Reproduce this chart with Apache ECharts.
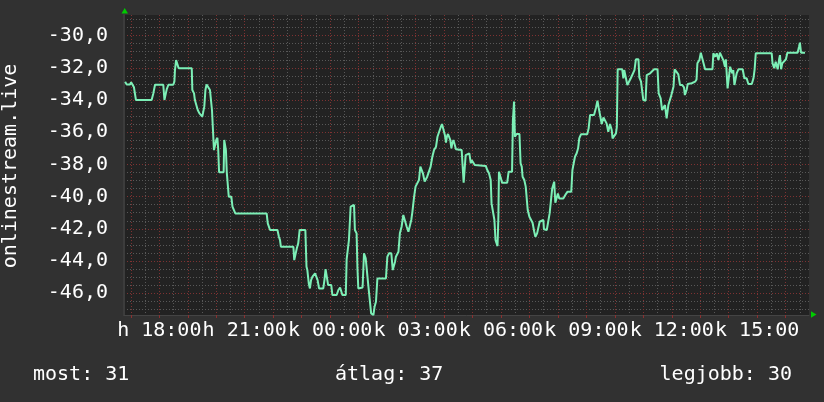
<!DOCTYPE html>
<html>
<head>
<meta charset="utf-8">
<script src="https://cdn.jsdelivr.net/npm/echarts@6/dist/echarts.min.js"></script>
<style>
    html, body { margin: 0; padding: 0; background: #313131; }
    #main { width: 824px; height: 402px; }
</style>
</head>
<body>
<div id="main"></div>
<script>
    // [hours since Monday 00:00, signal] pairs
    var samplesEvening = [
        [16.80, -32.86], [16.85, -33.03], [16.97, -33.03], [17.01, -32.90], [17.06, -32.90], [17.11, -33.21],
        [17.15, -33.27], [17.18, -34.00], [17.73, -34.00], [17.76, -33.90], [17.79, -33.59], [17.85, -33.05],
        [18.14, -33.05], [18.18, -34.00], [18.21, -34.00], [18.26, -33.34], [18.32, -33.05], [18.49, -33.05],
        [18.53, -32.86], [18.55, -32.14], [18.59, -31.52], [18.65, -31.52], [18.68, -32.03], [19.14, -32.03],
        [19.16, -33.38], [19.22, -33.59], [19.25, -34.00], [19.31, -34.10], [19.35, -34.62], [19.41, -34.83],
        [19.47, -34.83], [19.51, -35.03], [19.55, -35.14], [19.58, -34.41], [19.62, -33.38], [19.66, -33.03],
        [19.73, -33.03], [19.78, -33.38], [19.82, -33.48], [19.85, -34.62], [19.89, -34.72], [19.92, -37.11],
        [19.97, -37.11], [20.00, -36.48], [20.04, -36.34], [20.07, -37.11], [20.10, -38.49], [20.26, -38.49],
        [20.28, -36.48], [20.32, -36.59], [20.34, -37.11], [20.37, -38.49], [20.41, -38.49], [20.44, -40.00],
        [20.53, -40.00], [20.57, -40.62], [20.60, -40.67], [20.64, -40.73], [20.67, -41.04], [21.77, -41.04],
        [21.81, -41.66], [21.85, -41.76], [21.89, -42.07], [22.15, -42.07], [22.20, -42.49], [22.24, -42.70],
        [22.27, -43.11], [22.71, -43.11], [22.74, -43.94], [22.79, -43.94], [22.83, -43.21], [22.88, -42.90],
        [22.93, -42.07], [23.13, -42.07], [23.17, -44.35], [23.20, -44.56], [23.25, -45.39], [23.29, -45.70],
        [23.33, -45.18], [23.38, -44.97], [23.47, -44.77], [23.53, -44.81], [23.56, -45.18], [23.61, -45.70],
        [23.76, -45.70], [23.80, -45.18], [23.84, -44.50], [23.88, -44.50], [23.93, -45.49], [24.04, -45.49],
        [24.08, -46.11], [24.23, -46.11], [24.29, -45.80], [24.35, -45.64], [24.41, -45.64], [24.43, -46.11],
        [24.55, -46.11], [24.58, -43.90], [24.63, -43.90], [24.66, -42.70], [24.70, -41.35], [24.72, -40.62]
    ];
    var samplesNight = [
        [24.73, -40.52], [24.84, -40.52], [24.87, -42.07], [24.93, -42.28], [24.96, -44.46], [24.99, -45.70],
        [25.14, -45.64], [25.19, -43.52], [25.25, -43.83], [25.31, -43.83], [25.34, -45.49], [25.40, -45.49],
        [25.44, -47.25], [25.52, -47.35], [25.56, -46.84], [25.61, -46.53], [25.66, -45.08], [25.96, -45.08],
        [26.01, -43.73], [26.07, -43.52], [26.15, -43.52], [26.20, -44.56], [26.23, -44.66], [26.28, -44.04],
        [26.31, -43.73], [26.40, -43.42], [26.45, -42.28], [26.51, -41.87], [26.57, -41.14], [26.63, -41.04],
        [26.69, -41.87], [26.75, -42.18], [26.81, -42.28], [26.85, -41.45], [26.89, -40.94], [26.95, -40.00],
        [27.00, -39.38], [27.06, -39.28], [27.12, -38.97], [27.17, -38.14], [27.23, -38.10], [27.26, -38.55],
        [27.32, -39.07], [27.39, -39.07], [27.41, -38.76], [27.47, -38.66], [27.53, -38.14], [27.59, -37.52],
        [27.65, -37.11], [27.72, -36.90], [27.77, -36.28], [27.84, -36.17], [27.89, -35.66], [27.93, -35.49],
        [28.00, -35.49], [28.03, -36.17], [28.07, -36.65], [28.10, -36.28], [28.14, -36.11], [28.19, -36.17],
        [28.22, -36.48], [28.26, -37.00], [28.29, -36.69], [28.33, -36.48], [28.39, -36.48], [28.42, -37.06],
        [28.49, -37.11], [28.62, -37.11], [28.66, -37.21], [28.69, -39.13], [28.74, -39.13], [28.76, -37.42],
        [28.82, -37.31], [28.89, -37.31], [28.94, -37.93], [28.97, -37.73], [29.03, -37.69], [29.08, -38.04],
        [29.15, -38.10], [29.47, -38.10], [29.52, -38.35], [29.58, -38.55], [29.64, -38.97], [29.67, -40.42],
        [29.73, -40.42], [29.77, -41.45], [29.81, -42.70], [29.88, -43.07], [29.91, -41.25], [29.93, -38.45],
        [30.00, -38.45], [30.04, -39.13], [30.22, -39.13], [30.27, -38.45], [30.39, -38.45], [30.42, -35.24],
        [30.46, -34.10], [30.49, -36.28], [30.55, -36.11], [30.65, -36.11], [30.69, -37.93], [30.73, -38.14],
        [30.76, -38.76], [30.82, -38.97], [30.87, -39.38], [30.90, -39.49], [30.94, -40.83], [31.00, -41.25],
        [31.06, -41.35], [31.11, -41.62], [31.17, -42.18], [31.21, -42.49], [31.27, -42.28], [31.32, -42.28],
        [31.36, -41.56], [31.42, -41.45], [31.49, -41.45], [31.51, -42.03], [31.61, -42.07], [31.68, -42.03],
        [31.71, -41.04], [31.77, -41.04], [31.80, -39.49], [31.84, -39.38], [31.87, -39.07], [31.91, -40.38],
        [31.96, -40.42], [32.00, -39.80], [32.05, -40.11], [32.19, -40.11], [32.28, -39.84], [32.34, -39.69],
        [32.47, -39.69], [32.51, -38.35], [32.57, -38.24], [32.60, -37.52], [32.66, -37.31], [32.71, -37.00],
        [32.75, -36.38], [32.81, -36.13], [33.03, -36.13], [33.08, -35.76], [33.13, -34.93]
    ];
    var samplesDay = [
        [33.19, -34.93], [33.27, -34.93], [33.34, -34.46], [33.39, -34.04], [33.43, -34.46], [33.48, -34.93],
        [33.54, -35.49], [33.60, -35.08], [33.65, -35.14], [33.71, -35.45], [33.77, -35.97], [33.83, -35.49],
        [33.89, -35.86], [33.92, -36.38], [33.97, -36.48], [34.04, -36.07], [34.07, -35.66], [34.10, -32.09],
        [34.26, -32.09], [34.30, -32.65], [34.33, -32.14], [34.39, -32.09], [34.44, -33.07], [34.50, -32.96],
        [34.56, -32.65], [34.62, -32.59], [34.69, -32.14], [34.74, -31.47], [34.83, -31.47], [34.86, -32.59],
        [34.92, -32.86], [34.97, -32.96], [35.00, -34.00], [35.08, -34.04], [35.12, -32.45], [35.24, -32.34],
        [35.29, -32.24], [35.38, -32.09], [35.50, -32.09], [35.54, -33.59], [35.61, -33.90], [35.66, -34.62],
        [35.73, -34.62], [35.76, -34.31], [35.82, -35.14], [35.88, -34.31], [35.94, -34.37], [35.97, -33.79],
        [36.06, -33.17], [36.10, -32.09], [36.17, -32.14], [36.23, -32.41], [36.29, -33.07], [36.37, -33.07],
        [36.43, -33.21], [36.46, -33.69], [36.52, -33.38], [36.56, -33.01], [36.70, -32.96], [36.82, -32.86],
        [36.87, -32.72], [36.90, -31.72], [36.97, -31.52], [37.02, -31.06], [37.09, -31.06], [37.17, -32.09],
        [37.43, -32.09], [37.46, -31.10], [37.53, -31.31], [37.58, -31.10], [37.64, -31.52], [37.69, -31.06],
        [37.75, -31.06], [37.81, -31.52], [37.87, -31.93], [37.90, -31.47], [37.96, -33.28], [38.00, -33.28],
        [38.05, -31.93], [38.12, -32.34], [38.16, -32.14], [38.20, -33.07], [38.24, -33.07], [38.28, -32.34],
        [38.34, -32.09], [38.49, -32.09], [38.55, -32.65], [38.63, -32.65], [38.69, -33.01], [38.81, -33.01],
        [38.87, -32.65], [38.91, -32.09], [38.95, -31.10], [39.51, -31.10], [39.54, -31.72], [39.60, -32.03],
        [39.65, -31.62], [39.72, -32.09], [39.77, -31.47], [39.80, -31.21], [39.84, -32.09], [39.88, -31.72],
        [39.94, -31.62], [40.01, -31.47], [40.06, -31.06], [40.42, -31.06], [40.47, -30.69], [40.50, -30.44],
        [40.54, -31.06], [40.68, -31.06]
    ];

    var xTickValues = [18, 21, 24, 27, 30, 33, 36, 39];
    var xTickLabels = ['h 18:00', 'h 21:00', 'k 00:00', 'k 03:00', 'k 06:00', 'k 09:00', 'k 12:00', 'k 15:00'];
    var yTickValues = [-30, -32, -34, -36, -38, -40, -42, -44, -46];
    var yTitle = 'onlinestream.live';
    var summary = ['most: 31', 'átlag: 37', 'legjobb: 30'];

    var xMin = 16.76, xMax = 40.82;
    var yMin = -47.35, yMax = -28.72;

    var hourTicks = [], halfHourTicks = [], halfUnitTicks = [];
    for (var h = 17; h <= 40; h++) hourTicks.push(h);
    for (var hh = 17; hh <= 40.5; hh += 0.5) halfHourTicks.push(hh);
    for (var v = -47; v <= -29; v += 0.5) halfUnitTicks.push(v);

    var mono = 'DejaVu Sans Mono';
    var redGrid = '#7e3232';
    var greyGrid = '#585858';
    var dotted = [1, 2];

    var chart = echarts.init(document.getElementById('main'));
    chart.setOption({
        backgroundColor: '#313131',
        animation: false,
        grid: {
            left: 124, right: 15, top: 15, bottom: 87,
            show: true, backgroundColor: '#222222', borderWidth: 0
        },
        xAxis: [
            { // minor grid
                type: 'value', position: 'bottom', min: xMin, max: xMax,
                axisLine: {show: false},
                axisTick: {show: false, customValues: halfHourTicks},
                axisLabel: {show: false},
                splitLine: {show: true, lineStyle: {color: greyGrid, type: dotted}}
            },
            {
                type: 'value', position: 'bottom', min: xMin, max: xMax,
                axisLine: {show: true, onZero: false, lineStyle: {color: '#444444', width: 1}},
                axisTick: {show: true, customValues: hourTicks, length: 3, lineStyle: {color: '#8a3030'}},
                axisLabel: {
                    customValues: xTickValues,
                    formatter: function (val) {
                        return xTickLabels[xTickValues.indexOf(Math.round(val))];
                    },
                    color: '#ffffff', fontFamily: mono, fontSize: 20, margin: 6
                },
                splitLine: {show: true, lineStyle: {color: redGrid, type: dotted}}
            }
        ],
        yAxis: [
            { // minor grid
                type: 'value', position: 'left', min: yMin, max: yMax,
                axisLine: {show: false},
                axisTick: {show: false, customValues: halfUnitTicks},
                axisLabel: {show: false},
                splitLine: {show: true, lineStyle: {color: greyGrid, type: dotted}}
            },
            {
                type: 'value', position: 'left', min: yMin, max: yMax,
                axisLine: {show: true, onZero: false, lineStyle: {color: '#3c3c3c', width: 2}},
                axisTick: {show: false, customValues: yTickValues},
                axisLabel: {
                    customValues: yTickValues,
                    formatter: function (val) {
                        return val.toFixed(1).replace('.', ',');
                    },
                    color: '#ffffff', fontFamily: mono, fontSize: 20, margin: 16
                },
                splitLine: {show: true, lineStyle: {color: redGrid, type: dotted}}
            }
        ],
        series: [
            {
                type: 'line',
                xAxisIndex: 1,
                yAxisIndex: 1,
                data: samplesEvening.concat(samplesNight, samplesDay),
                showSymbol: false,
                clip: true,
                lineStyle: {color: '#7cefb6', width: 2},
                z: 5
            }
        ],
        graphic: [
            {
                type: 'text', x: 11, y: 166, rotation: Math.PI / 2,
                style: {text: yTitle, fill: '#ffffff', font: '20px "DejaVu Sans Mono"', align: 'center', verticalAlign: 'middle'}
            },
            {
                type: 'text', x: 33, y: 375,
                style: {text: summary[0], fill: '#ffffff', font: '20px "DejaVu Sans Mono"', align: 'left', verticalAlign: 'middle'}
            },
            {
                type: 'text', x: 335, y: 375,
                style: {text: summary[1], fill: '#ffffff', font: '20px "DejaVu Sans Mono"', align: 'left', verticalAlign: 'middle'}
            },
            {
                type: 'text', x: 792, y: 375,
                style: {text: summary[2], fill: '#ffffff', font: '20px "DejaVu Sans Mono"', align: 'right', verticalAlign: 'middle'}
            },
            {
                type: 'polygon',
                shape: {points: [[124.7, 8], [121.5, 13.5], [128, 13.5]]},
                style: {fill: '#00cc00'}
            },
            {
                type: 'polygon',
                shape: {points: [[816.5, 314.5], [811, 311.3], [811, 317.7]]},
                style: {fill: '#00cc00'}
            }
        ]
    });
</script>
</body>
</html>
